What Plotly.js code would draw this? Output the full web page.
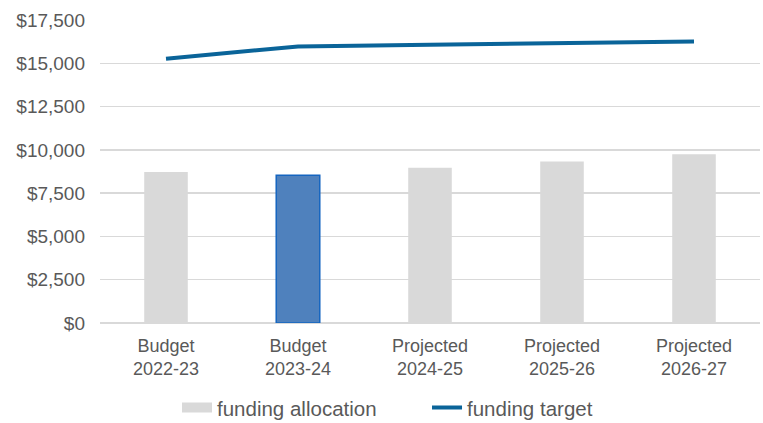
<!DOCTYPE html>
<html>
<head>
<meta charset="utf-8">
<script src="https://cdn.plot.ly/plotly-3.0.1.min.js"></script>
<style>html,body{margin:0;padding:0;background:#fff;}#chart{width:763px;height:423px;}</style>
</head>
<body>
<div id="chart"></div>
<script>
const categories = ["Budget<br>2022-23", "Budget<br>2023-24", "Projected<br>2024-25", "Projected<br>2025-26", "Projected<br>2026-27"];
const fundingAllocation = [8725, 8530, 8960, 9325, 9745];
const fundingTarget = [15265, 15975, 16070, 16185, 16265];
const barColors = ["#d9d9d9", "#4f81bd", "#d9d9d9", "#d9d9d9", "#d9d9d9"];
const barLineColors = ["#d9d9d9", "#1565c0", "#d9d9d9", "#d9d9d9", "#d9d9d9"];
const tickVals = [0, 2500, 5000, 7500, 10000, 12500, 15000, 17500];
const tickText = ["$0", "$2,500", "$5,000", "$7,500", "$10,000", "$12,500", "$15,000", "$17,500"];

const traces = [
  {
    type: "bar", name: "funding allocation", x: categories, y: fundingAllocation,
    width: 0.33, showlegend: false,
    marker: { color: barColors, line: { color: barLineColors, width: [0, 1.5, 0, 0, 0] } },
    hoverinfo: "skip"
  },
  {
    // legend proxy for the bar series (wide gray swatch like the reference)
    type: "scatter", mode: "lines", name: "funding allocation", x: [categories[0]], y: [null],
    line: { color: "#d9d9d9", width: 13 }, hoverinfo: "skip", showlegend: true
  },
  {
    type: "scatter", mode: "lines", name: "funding target", x: categories, y: fundingTarget,
    line: { color: "#0a6499", width: 4 },
    hoverinfo: "skip"
  }
];

const layout = {
  width: 763, height: 423,
  margin: { l: 100, r: 3, t: 19.5, b: 100, autoexpand: false },
  paper_bgcolor: "#fff", plot_bgcolor: "#fff",
  font: { family: "Liberation Sans, Arial, sans-serif", size: 18, color: "#595959" },
  showlegend: true,
  legend: {
    orientation: "h", x: 0.232, xref: "container", xanchor: "left",
    y: 0.036, yref: "container", yanchor: "middle",
    font: { size: 20.5, color: "#595959" }, itemwidth: 30, traceorder: "normal",
    entrywidth: 205
  },
  xaxis: {
    type: "category", showgrid: false, showline: false, ticks: "",
    ticklabelstandoff: 10,
    tickfont: { size: 18, color: "#595959" }, fixedrange: true
  },
  yaxis: {
    range: [0, 17500], tickvals: tickVals, ticktext: tickText,
    showgrid: true, gridcolor: "#d9d9d9", gridwidth: 1.5,
    zeroline: true, zerolinecolor: "#d9d9d9", zerolinewidth: 1.5,
    ticks: "", ticklabelstandoff: 14, tickfont: { size: 19, color: "#595959" }, fixedrange: true
  },
  bargap: 0.67
};

Plotly.newPlot("chart", traces, layout, { displayModeBar: false, staticPlot: true });
</script>
</body>
</html>
